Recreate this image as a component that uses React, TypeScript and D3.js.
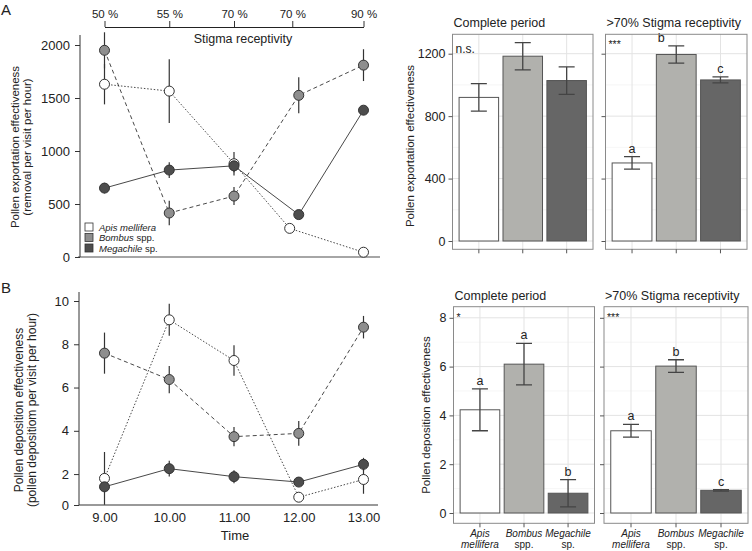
import { useRef, useEffect } from "react";
import * as d3 from "d3";

// time course (panel A and B, left)
const times = [9, 10, 11, 12, 13];
const timeLabels = ["9.00", "10.00", "11.00", "12.00", "13.00"];
const stigmaAt = [9, 10, 11, 11.9, 13];
const stigmaLabels = ["50 %", "55 %", "70 %", "70 %", "90 %"];
const apisTimesA = [9, 10, 11, 11.86, 13];

const apisExport = [1630, 1565, 880, 270, 45];
const apisExportErr = [190, 300, 110, 30, 15];
const bombusExport = [1950, 415, 575, 1525, 1810];
const bombusExportErr = [170, 115, 85, 170, 150];
const megaExport = [650, 820, 860, 400, 1385];
const megaExportErr = [50, 75, 60, 20, 30];

const apisDepo = [1.8, 9.13, 7.25, 0.93, 1.75];
const apisDepoErr = [1.22, 0.74, 0.7, 0.1, 0.66];
const bombusDepo = [7.59, 6.37, 3.73, 3.88, 8.79];
const bombusDepoErr = [0.95, 0.63, 0.45, 0.57, 0.52];
const megaDepo = [1.41, 2.25, 1.88, 1.63, 2.45];
const megaDepoErr = [0.15, 0.36, 0.3, 0.08, 0.3];

// bar panels (right)
const genus = ["Apis", "Bombus", "Megachile"];
const epithet = ["mellifera", "spp.", "sp."];
const epithetItalic = [true, false, false];

const expComplete = [920, 1184, 1028];
const expCompleteErr = [88, 87, 88];
const expHigh = [500, 1195, 1032];
const expHighErr = [40, 55, 19];
const expHighLetters = ["a", "b", "c"];

const depComplete = [4.23, 6.1, 0.81];
const depCompleteErr = [0.86, 0.85, 0.56];
const depCompleteLetters = ["a", "a", "b"];
const depHigh = [3.37, 6.02, 0.93];
const depHighErr = [0.26, 0.26, 0.03];
const depHighLetters = ["a", "b", "c"];

const FONT = "'Liberation Sans', Arial, Helvetica, sans-serif";
const FILLS = ["#ffffff", "#8e8e8e", "#4d4d4d"];
const BAR_FILLS = ["#ffffff", "#b1b1ad", "#666666"];
const DASHES = ["1.5,1.8", "4,3", null];

type Series = { t: number[]; v: number[]; e: number[] };

function drawLines(g: any, x: any, y: any, series: Series[], yFloor: number) {
  series.forEach((s, i) => {
    const pts = s.v.map((v, j) => [s.t[j], v] as [number, number]);
    const line = d3.line<[number, number]>().x((d) => x(d[0])).y((d) => y(d[1]));
    g.append("path")
      .attr("d", line(pts))
      .attr("fill", "none")
      .attr("stroke", "#333")
      .attr("stroke-width", 0.9)
      .attr("stroke-dasharray", DASHES[i]);
  });
  series.forEach((s) => {
    s.v.forEach((v, j) => {
      g.append("line")
        .attr("x1", x(s.t[j]))
        .attr("x2", x(s.t[j]))
        .attr("y1", Math.min(y(v - s.e[j]), yFloor))
        .attr("y2", y(v + s.e[j]))
        .attr("stroke", "#333")
        .attr("stroke-width", 1.2);
    });
  });
  series.forEach((s, i) => {
    s.v.forEach((v, j) => {
      g.append("circle")
        .attr("cx", x(s.t[j]))
        .attr("cy", y(v))
        .attr("r", 5)
        .attr("fill", FILLS[i])
        .attr("stroke", "#333")
        .attr("stroke-width", 1);
    });
  });
}

function styleAxis(sel: any, size = 12.5) {
  sel.selectAll("text").attr("font-family", FONT).attr("font-size", size).attr("fill", "#222");
  sel.selectAll(".tick line").attr("stroke", "#333");
}

interface BarOpts {
  x0: number;
  x1: number;
  top: number;
  bottom: number;
  y: any;
  major: number[];
  minor: number[];
  values: number[];
  errs: number[];
  letters: string[] | null;
  letterNudge?: number[];
  signif: string;
  title: string;
  showLabels: boolean;
  showSpecies: boolean;
}

function drawBarPanel(svg: any, o: BarOpts) {
  const g = svg.append("g");
  const x = d3.scaleBand<number>().domain([0, 1, 2]).range([o.x0, o.x1]).paddingInner(0.1).paddingOuter(0.15);
  const cx = (i: number) => (x(i) as number) + x.bandwidth() / 2;

  g.append("rect")
    .attr("x", o.x0).attr("y", o.top)
    .attr("width", o.x1 - o.x0).attr("height", o.bottom - o.top)
    .attr("fill", "#fff");
  o.minor.forEach((v) => {
    g.append("line").attr("x1", o.x0).attr("x2", o.x1).attr("y1", o.y(v)).attr("y2", o.y(v))
      .attr("stroke", "#f0f0f0").attr("stroke-width", 0.6);
  });
  o.major.forEach((v) => {
    g.append("line").attr("x1", o.x0).attr("x2", o.x1).attr("y1", o.y(v)).attr("y2", o.y(v))
      .attr("stroke", "#e3e3e3").attr("stroke-width", 1);
  });
  [0, 1, 2].forEach((i) => {
    g.append("line").attr("x1", cx(i)).attr("x2", cx(i)).attr("y1", o.top).attr("y2", o.bottom)
      .attr("stroke", "#e3e3e3").attr("stroke-width", 1);
  });

  o.values.forEach((v, i) => {
    g.append("rect")
      .attr("x", x(i)).attr("y", o.y(v))
      .attr("width", x.bandwidth()).attr("height", o.y(0) - o.y(v))
      .attr("fill", BAR_FILLS[i]).attr("stroke", "#555").attr("stroke-width", 1);
    const hi = o.y(v + o.errs[i]);
    const lo = o.y(v - o.errs[i]);
    const cap = 8;
    g.append("path")
      .attr("d", `M${cx(i) - cap},${hi}H${cx(i) + cap}M${cx(i)},${hi}V${lo}M${cx(i) - cap},${lo}H${cx(i) + cap}`)
      .attr("fill", "none").attr("stroke", "#444").attr("stroke-width", 1.3);
    if (o.letters) {
      g.append("text")
        .attr("x", cx(i) + (o.letterNudge ? o.letterNudge[i] : 0))
        .attr("y", hi - 4)
        .attr("text-anchor", "middle")
        .attr("font-family", FONT).attr("font-size", 12.5).attr("fill", "#222")
        .text(o.letters[i]);
    }
  });

  g.append("rect")
    .attr("x", o.x0).attr("y", o.top)
    .attr("width", o.x1 - o.x0).attr("height", o.bottom - o.top)
    .attr("fill", "none").attr("stroke", "#8a8a8a").attr("stroke-width", 1);

  g.append("text")
    .attr("x", o.x0 + 3).attr("y", o.top + (o.signif === "n.s." ? 19 : 14))
    .attr("font-family", FONT).attr("font-size", o.signif === "n.s." ? 12 : 10.5).attr("fill", "#222")
    .text(o.signif);

  g.append("text")
    .attr("x", o.x0 + 1).attr("y", o.top - 7)
    .attr("font-family", FONT).attr("font-size", 12.5).attr("fill", "#222")
    .text(o.title);

  // left ticks
  const ya = g.append("g").attr("transform", `translate(${o.x0},0)`)
    .call(d3.axisLeft(o.y).tickValues(o.major).tickSize(4).tickPadding(3)
      .tickFormat(o.showLabels ? (d: any) => String(d) : () => ""));
  ya.select(".domain").remove();
  styleAxis(ya, 12.5);
  ya.selectAll(".tick line").attr("stroke", "#555");

  // bottom ticks and species names
  [0, 1, 2].forEach((i) => {
    g.append("line").attr("x1", cx(i)).attr("x2", cx(i)).attr("y1", o.bottom).attr("y2", o.bottom + 4)
      .attr("stroke", "#555");
    if (o.showSpecies) {
      g.append("text")
        .attr("x", cx(i)).attr("y", o.bottom + 13.5)
        .attr("text-anchor", "middle").attr("font-family", FONT).attr("font-size", 10).attr("fill", "#222")
        .attr("font-style", "italic")
        .text(genus[i]);
      g.append("text")
        .attr("x", cx(i)).attr("y", o.bottom + 24.5)
        .attr("text-anchor", "middle").attr("font-family", FONT).attr("font-size", 10).attr("fill", "#222")
        .attr("font-style", epithetItalic[i] ? "italic" : "normal")
        .text(epithet[i]);
    }
  });
}

export default function App() {
  const svgRef = useRef<SVGSVGElement>(null);

  useEffect(() => {
    if (!svgRef.current) return;
    const svg = d3.select(svgRef.current);
    svg.selectAll("*").remove();

    const xT = d3.scaleLinear().domain([9, 13]).range([104.5, 363.5]);

    // ---------- Panel A, line chart ----------
    const yA = d3.scaleLinear().domain([0, 2000]).range([257, 45]);
    const gA = svg.append("g");

    gA.append("line").attr("x1", 78).attr("x2", 380).attr("y1", 257).attr("y2", 257)
      .attr("stroke", "#888").attr("stroke-width", 1.3);
    gA.append("line").attr("x1", 80).attr("x2", 80).attr("y1", 35).attr("y2", 257)
      .attr("stroke", "#333").attr("stroke-width", 1);
    const ayA = gA.append("g").attr("transform", "translate(80,0)")
      .call(d3.axisLeft(yA).tickValues([0, 500, 1000, 1500, 2000]).tickSize(5).tickPadding(5)
        .tickFormat((d: any) => String(d)));
    ayA.select(".domain").remove();
    styleAxis(ayA, 13);

    const topAx = gA.append("g").attr("transform", "translate(0,27)")
      .call(d3.axisTop(xT).tickValues(stigmaAt).tickSizeInner(6).tickSizeOuter(0).tickPadding(3)
        .tickFormat((_d: any, i: number) => stigmaLabels[i]));
    topAx.select(".domain").attr("stroke", "#222").attr("stroke-width", 1.2);
    styleAxis(topAx, 11.5);
    gA.append("text").attr("x", 243).attr("y", 42.5).attr("text-anchor", "middle")
      .attr("font-family", FONT).attr("font-size", 12.5).attr("fill", "#222").text("Stigma receptivity");

    drawLines(gA, xT, yA, [
      { t: apisTimesA, v: apisExport, e: apisExportErr },
      { t: times, v: bombusExport, e: bombusExportErr },
      { t: times, v: megaExport, e: megaExportErr },
    ], 257);

    const yLabA = gA.append("text").attr("transform", "translate(0,147) rotate(-90)")
      .attr("text-anchor", "middle").attr("font-family", FONT).attr("font-size", 11.5).attr("fill", "#222");
    yLabA.append("tspan").attr("x", 0).attr("y", 19).text("Pollen exportation effectiveness");
    yLabA.append("tspan").attr("x", 0).attr("y", 31).text("(removal per visit per hour)");

    // legend
    const legend = gA.append("g").attr("transform", "translate(85,223)");
    genus.forEach((name, i) => {
      const row = legend.append("g").attr("transform", `translate(0,${i * 10.5})`);
      row.append("rect").attr("width", 8).attr("height", 8).attr("fill", FILLS[i]).attr("stroke", "#333").attr("stroke-width", 0.8);
      const t = row.append("text").attr("x", 14).attr("y", 7.5).attr("font-family", FONT).attr("font-size", 9.5).attr("fill", "#222");
      t.append("tspan").attr("font-style", "italic").text(epithetItalic[i] ? `${name} ${epithet[i]}` : name);
      if (!epithetItalic[i]) t.append("tspan").text(` ${epithet[i]}`);
    });

    svg.append("text").attr("x", 1).attr("y", 15).attr("font-family", FONT).attr("font-size", 15).attr("fill", "#222").text("A");

    // ---------- Panel B, line chart ----------
    const yB = d3.scaleLinear().domain([0.57, 10]).range([505, 301]);
    const gB = svg.append("g");
    gB.append("line").attr("x1", 79).attr("x2", 378).attr("y1", 505).attr("y2", 505)
      .attr("stroke", "#777").attr("stroke-width", 1.3);
    gB.append("line").attr("x1", 79).attr("x2", 79).attr("y1", 292).attr("y2", 505)
      .attr("stroke", "#333").attr("stroke-width", 1);
    const ayB = gB.append("g").attr("transform", "translate(79,0)")
      .call(d3.axisLeft(yB).tickValues([0.57, 2, 4, 6, 8, 10]).tickSize(5).tickPadding(5)
        .tickFormat((d: any) => (d < 1 ? "0" : String(d))));
    ayB.select(".domain").remove();
    styleAxis(ayB, 13);

    const axB = gB.append("g").attr("transform", "translate(0,505)")
      .call(d3.axisBottom(xT).tickValues(times).tickSize(0).tickPadding(8)
        .tickFormat((_d: any, i: number) => timeLabels[i]));
    axB.select(".domain").remove();
    styleAxis(axB, 13);
    gB.append("text").attr("x", 235).attr("y", 540).attr("text-anchor", "middle")
      .attr("font-family", FONT).attr("font-size", 13).attr("fill", "#222").text("Time");

    drawLines(gB, xT, yB, [
      { t: times, v: apisDepo, e: apisDepoErr },
      { t: times, v: bombusDepo, e: bombusDepoErr },
      { t: times, v: megaDepo, e: megaDepoErr },
    ], 505);

    const yLabB = gB.append("text").attr("transform", "translate(0,410) rotate(-90)")
      .attr("text-anchor", "middle").attr("font-family", FONT).attr("font-size", 12).attr("fill", "#222");
    yLabB.append("tspan").attr("x", 0).attr("y", 22.5).text("Pollen deposition effectiveness");
    yLabB.append("tspan").attr("x", 0).attr("y", 35.5).text("(pollen depositiom per visit per hour)");

    svg.append("text").attr("x", 1).attr("y", 293).attr("font-family", FONT).attr("font-size", 15).attr("fill", "#222").text("B");

    // ---------- right bar panels ----------
    const yEA = d3.scaleLinear().domain([0, 1200]).range([241, 53.7]);
    const expMajor = [0, 400, 800, 1200];
    const expMinor = [200, 600, 1000];
    drawBarPanel(svg, {
      x0: 452.5, x1: 593, top: 34.3, bottom: 249.3, y: yEA, major: expMajor, minor: expMinor,
      values: expComplete, errs: expCompleteErr, letters: null, signif: "n.s.",
      title: "Complete period", showLabels: true, showSpecies: false,
    });
    drawBarPanel(svg, {
      x0: 605.5, x1: 747, top: 34.3, bottom: 249.3, y: yEA, major: expMajor, minor: expMinor,
      values: expHigh, errs: expHighErr, letters: expHighLetters, letterNudge: [0, -15, 0], signif: "***",
      title: ">70% Stigma receptivity", showLabels: false, showSpecies: false,
    });
    svg.append("text").attr("transform", "translate(410,146) rotate(-90)")
      .attr("text-anchor", "middle").attr("dominant-baseline", "central")
      .attr("font-family", FONT).attr("font-size", 11.5).attr("fill", "#222")
      .text("Pollen exportation effectiveness");

    const yDB = d3.scaleLinear().domain([0, 8]).range([513, 317.8]);
    const depMajor = [0, 2, 4, 6, 8];
    const depMinor = [1, 3, 5, 7];
    drawBarPanel(svg, {
      x0: 453.5, x1: 594.5, top: 306.7, bottom: 523.3, y: yDB, major: depMajor, minor: depMinor,
      values: depComplete, errs: depCompleteErr, letters: depCompleteLetters, signif: "*",
      title: "Complete period", showLabels: true, showSpecies: true,
    });
    drawBarPanel(svg, {
      x0: 604, x1: 748, top: 306.7, bottom: 523.3, y: yDB, major: depMajor, minor: depMinor,
      values: depHigh, errs: depHighErr, letters: depHighLetters, signif: "***",
      title: ">70% Stigma receptivity", showLabels: false, showSpecies: true,
    });
    svg.append("text").attr("transform", "translate(426,415) rotate(-90)")
      .attr("text-anchor", "middle").attr("dominant-baseline", "central")
      .attr("font-family", FONT).attr("font-size", 11.5).attr("fill", "#222")
      .text("Pollen deposition effectiveness");
  }, []);

  return (
    <svg
      ref={svgRef}
      width={752}
      height={551}
      style={{ position: "absolute", left: 0, top: 0, background: "#fff" }}
    />
  );
}
